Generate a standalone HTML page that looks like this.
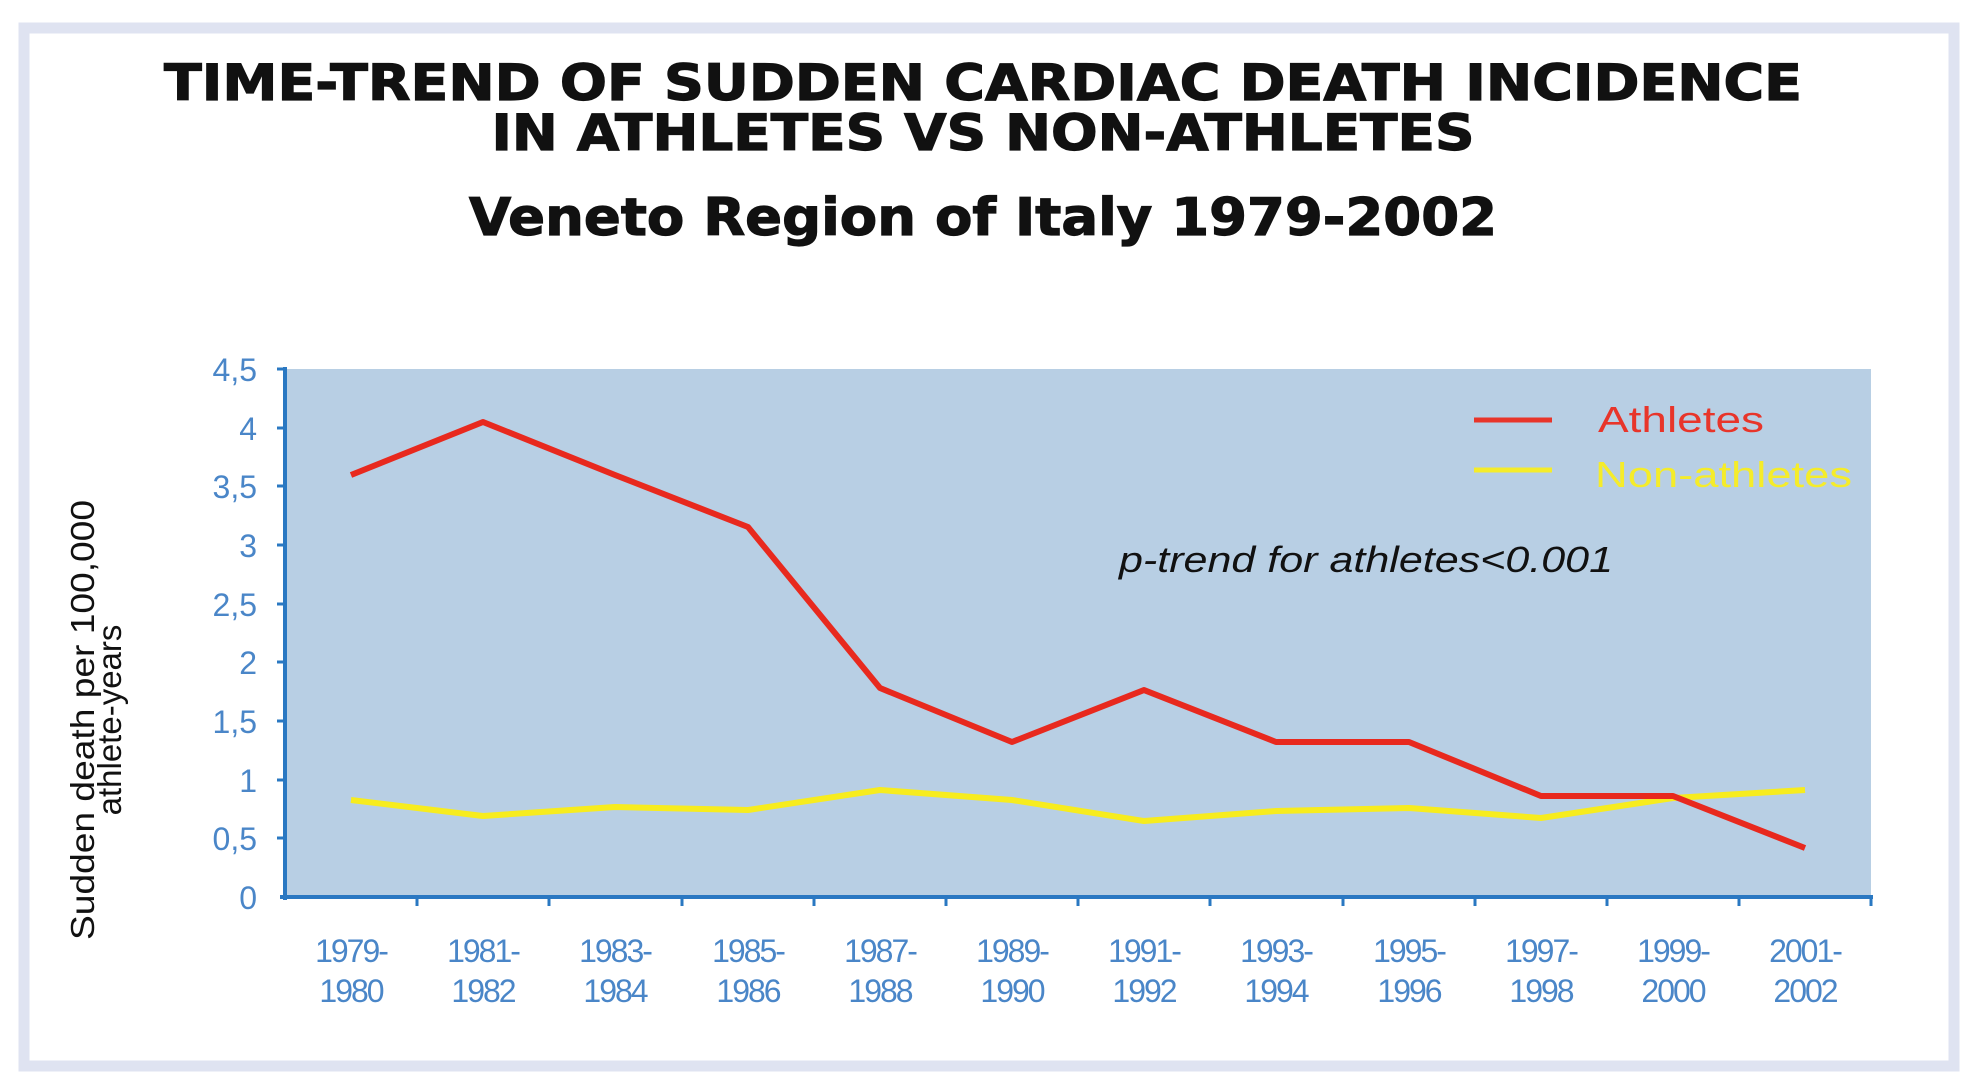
<!DOCTYPE html>
<html><head><meta charset="utf-8"><style>
html,body{margin:0;padding:0;background:#fff}
svg{display:block}
</style></head><body>
<svg width="1975" height="1086" viewBox="0 0 1975 1086" xmlns="http://www.w3.org/2000/svg">
<rect x="0" y="0" width="1975" height="1086" fill="#fff"/>
<rect x="24" y="28" width="1930" height="1038" fill="#fff" stroke="#dfe3f1" stroke-width="11"/>
<g font-family="'DejaVu Sans','Liberation Sans',sans-serif" font-weight="bold" fill="#111" text-anchor="middle" stroke="#111" stroke-width="1.2">
<text x="983" y="100" font-size="50" textLength="1638" lengthAdjust="spacingAndGlyphs">TIME-TREND OF SUDDEN CARDIAC DEATH INCIDENCE</text>
<text x="983" y="150" font-size="50" textLength="983" lengthAdjust="spacingAndGlyphs">IN ATHLETES VS NON-ATHLETES</text>
<text x="983" y="235" font-size="52" textLength="1028" lengthAdjust="spacingAndGlyphs">Veneto Region of Italy 1979-2002</text>
</g>
<rect x="285" y="369" width="1586" height="528" fill="#b8cfe4"/>
<g stroke="#2a78c2" stroke-width="4" fill="none">
<line x1="285" y1="367" x2="285" y2="900"/>
<line x1="280" y1="897" x2="1873" y2="897"/>
</g>
<g stroke="#2a78c2" stroke-width="3">
<line x1="277" y1="369" x2="285" y2="369"/>
<line x1="277" y1="428" x2="285" y2="428"/>
<line x1="277" y1="486" x2="285" y2="486"/>
<line x1="277" y1="545" x2="285" y2="545"/>
<line x1="277" y1="604" x2="285" y2="604"/>
<line x1="277" y1="662" x2="285" y2="662"/>
<line x1="277" y1="721" x2="285" y2="721"/>
<line x1="277" y1="780" x2="285" y2="780"/>
<line x1="277" y1="838" x2="285" y2="838"/>
<line x1="417" y1="897" x2="417" y2="906"/>
<line x1="549" y1="897" x2="549" y2="906"/>
<line x1="682" y1="897" x2="682" y2="906"/>
<line x1="814" y1="897" x2="814" y2="906"/>
<line x1="946" y1="897" x2="946" y2="906"/>
<line x1="1078" y1="897" x2="1078" y2="906"/>
<line x1="1210" y1="897" x2="1210" y2="906"/>
<line x1="1343" y1="897" x2="1343" y2="906"/>
<line x1="1475" y1="897" x2="1475" y2="906"/>
<line x1="1607" y1="897" x2="1607" y2="906"/>
<line x1="1739" y1="897" x2="1739" y2="906"/>
<line x1="1871" y1="897" x2="1871" y2="906"/>
</g>
<g font-family="'Liberation Sans',sans-serif" font-size="32" fill="#4a86c8" text-anchor="end">
<text x="257" y="381">4,5</text>
<text x="257" y="440">4</text>
<text x="257" y="498">3,5</text>
<text x="257" y="557">3</text>
<text x="257" y="616">2,5</text>
<text x="257" y="674">2</text>
<text x="257" y="733">1,5</text>
<text x="257" y="792">1</text>
<text x="257" y="850">0,5</text>
<text x="257" y="909">0</text>
</g>
<g font-family="'Liberation Sans',sans-serif" font-size="32" fill="#4a86c8" text-anchor="middle" letter-spacing="-2">
<text x="351" y="962">1979-</text><text x="351" y="1002">1980</text>
<text x="483" y="962">1981-</text><text x="483" y="1002">1982</text>
<text x="615" y="962">1983-</text><text x="615" y="1002">1984</text>
<text x="748" y="962">1985-</text><text x="748" y="1002">1986</text>
<text x="880" y="962">1987-</text><text x="880" y="1002">1988</text>
<text x="1012" y="962">1989-</text><text x="1012" y="1002">1990</text>
<text x="1144" y="962">1991-</text><text x="1144" y="1002">1992</text>
<text x="1276" y="962">1993-</text><text x="1276" y="1002">1994</text>
<text x="1409" y="962">1995-</text><text x="1409" y="1002">1996</text>
<text x="1541" y="962">1997-</text><text x="1541" y="1002">1998</text>
<text x="1673" y="962">1999-</text><text x="1673" y="1002">2000</text>
<text x="1805" y="962">2001-</text><text x="1805" y="1002">2002</text>
</g>
<g font-family="'Liberation Sans',sans-serif" font-size="33" fill="#111" text-anchor="middle">
<text transform="translate(94,720) rotate(-90)" textLength="440" lengthAdjust="spacingAndGlyphs">Sudden death per 100,000</text>
<text transform="translate(121,720) rotate(-90)">athlete-years</text>
</g>
<polyline fill="none" stroke="#f7ec1e" stroke-width="6" stroke-linejoin="round"
points="351,800 483,816 615,807 748,810 880,790 1012,800 1144,821 1276,811 1409,808 1541,818 1673,798 1805,790"/>
<polyline fill="none" stroke="#e8291e" stroke-width="6" stroke-linejoin="round"
points="351,475 483,422 615,475 748,527 880,688 1012,742 1144,690 1276,742 1409,742 1541,796 1673,796 1805,848"/>
<line x1="1474" y1="420" x2="1552" y2="420" stroke="#e8352a" stroke-width="5"/>
<line x1="1474" y1="470" x2="1552" y2="470" stroke="#f5ec2a" stroke-width="5"/>
<g font-family="'Liberation Sans',sans-serif" font-size="36">
<text x="1598" y="432" fill="#e8352a" textLength="166" lengthAdjust="spacingAndGlyphs">Athletes</text>
<text x="1595" y="487" fill="#f5ec2a" textLength="257" lengthAdjust="spacingAndGlyphs">Non-athletes</text>
<text x="1119" y="572" fill="#111" font-style="italic" textLength="494" lengthAdjust="spacingAndGlyphs">p-trend for athletes&lt;0.001</text>
</g>
</svg>
</body></html>
